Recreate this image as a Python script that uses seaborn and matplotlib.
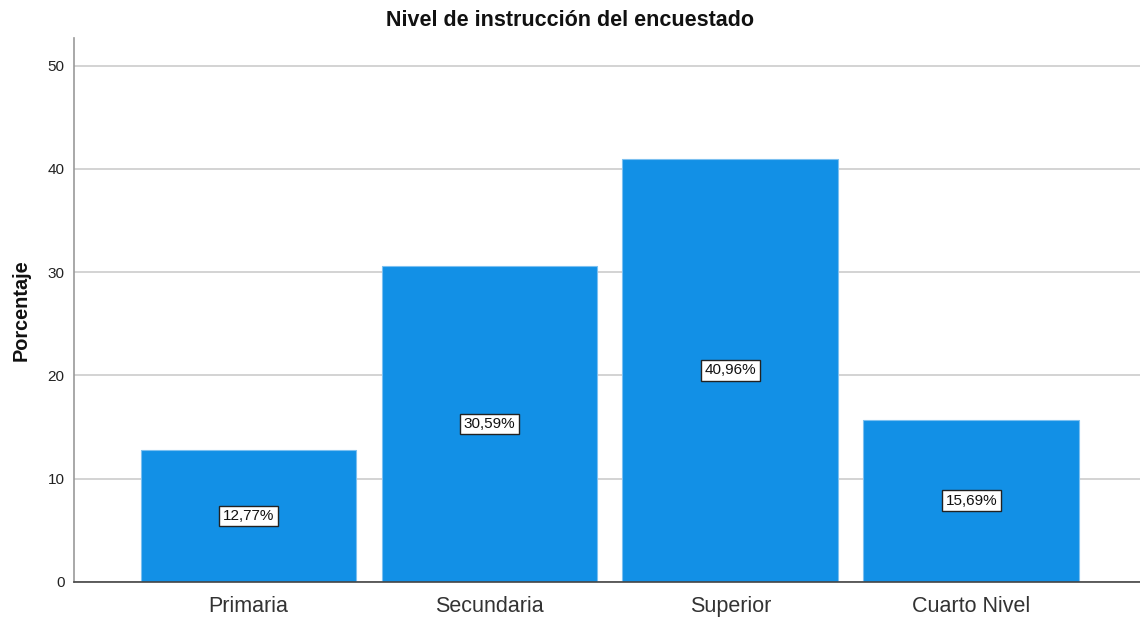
import pandas as pd
import matplotlib.pyplot as plt
import seaborn as sns

# data
categorias = ["Primaria", "Secundaria", "Superior", "Cuarto Nivel"]
porcentajes = [12.77, 30.59, 40.96, 15.69]
etiquetas = ["12,77%", "30,59%", "40,96%", "15,69%"]

df = pd.DataFrame({"nivel": categorias, "pct": porcentajes})

sns.set_style("white")
plt.rcParams['font.family'] = ['Liberation Sans', 'DejaVu Sans']

fig = plt.figure(figsize=(11.4, 6.17), dpi=100)
ax = fig.add_axes([0.065, 0.057, 0.935, 0.881])

sns.barplot(data=df, x="nivel", y="pct", color="#1290e6", saturation=1,
            width=0.896, edgecolor="#7cc0f0", linewidth=0.8, zorder=2, ax=ax)

# value labels in the middle of each bar
for i, (v, t) in enumerate(zip(porcentajes, etiquetas)):
    ax.text(i, v / 2, t, ha="center", va="center", fontsize=11, color="#111111",
            bbox=dict(boxstyle="square,pad=0.22", fc="white", ec="#222222", lw=1),
            zorder=4)

ax.set_xlim(-0.724, 3.70)
ax.set_ylim(0, 52.66)
ax.set_yticks([0, 10, 20, 30, 40, 50])
ax.yaxis.grid(True, color="#cccccc", lw=1.2, zorder=0)
ax.set_axisbelow(True)

for s in ["top", "right"]:
    ax.spines[s].set_visible(False)
ax.spines["left"].set_color("#999999")
ax.spines["left"].set_linewidth(1.2)
ax.spines["bottom"].set_color("#444444")
ax.spines["bottom"].set_linewidth(1.2)

ax.tick_params(axis="y", labelsize=11, colors="#222222", length=0, pad=7)
ax.tick_params(axis="x", labelsize=15.5, colors="#333333", length=0, pad=10)

ax.set_xlabel("")
ax.set_ylabel("Porcentaje", fontsize=14.3, fontweight="bold", color="#111111", labelpad=12)
fig.text(0.5, 0.967, "Nivel de instrucción del encuestado", ha="center", va="center",
         fontsize=15.5, fontweight="bold", color="#111111")

plt.savefig("out.png", dpi=100)
